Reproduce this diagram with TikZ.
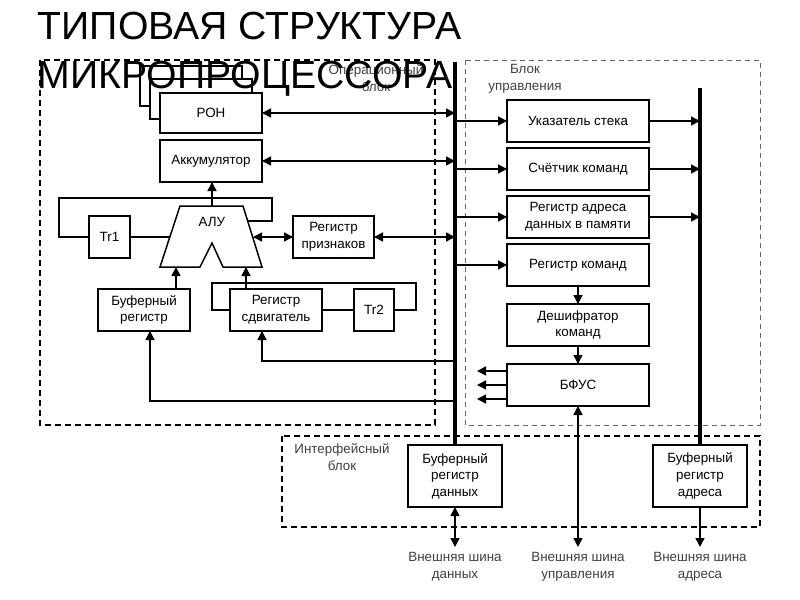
\documentclass[tikz,border=0pt]{standalone}
\usepackage{fontspec}
\setmainfont{Liberation Sans}
\usetikzlibrary{arrows.meta,positioning,calc}

\begin{document}
\begin{tikzpicture}[x=0.5pt,y=-0.5pt,>={Triangle[length=4.5pt,width=4.5pt]},
  line width=0.75pt,font=\fontsize{6.7}{8.3}\selectfont,
  main node/.style={rectangle,draw,fill=white,align=center,inner sep=1pt,
    outer sep=0pt,minimum height=21pt},
  ctrl node/.style={main node,minimum width=71pt},
  bus/.style={line width=2pt},
  block/.style={line width=1pt,dash pattern=on 3pt off 2pt},
  block name/.style={align=center,text=black!75}]

  \useasboundingbox (0,0) rectangle (800,600);

  % blocks
  \draw[block] (40,60) rectangle (435,425);
  \draw[line width=0.5pt,black!60,dash pattern=on 2.5pt off 2pt] (465,60) rectangle (760,425);
  \draw[block] (282,436) rectangle (760,527);
  \node[block name] (ob) at (376,78) {Операционный\\блок};
  \node[block name] (cb) at (525,79) {Блок\\управления};
  \node[block name] (ib) at (342,457) {Интерфейсный\\блок};

  % operational block
  \node[main node,minimum width=51pt,minimum height=20pt] (1b) at (191,86) {};
  \node[main node,minimum width=51pt,minimum height=20pt] (1a) at (201,99) {};
  \node[main node,minimum width=51pt,minimum height=20pt] (1) at (211,113) {РОН};
  \node[main node,minimum width=51pt] (2) at (211,161) {Аккумулятор};
  \draw (180,206) -- (243,206) -- (262,267) -- (223,267) -- (212,243)
    -- (200,267) -- (160,267) -- cycle;
  \node (3) at (212,222) {АЛУ};
  \coordinate (3t) at (212,206);
  \coordinate (3l) at (170,237);
  \coordinate (3r) at (253,237);
  \coordinate (3rr) at (248,221);
  \coordinate (3bl) at (176,267);
  \coordinate (3br) at (246,267);
  \node[main node,minimum width=20.5pt] (4) at (109.5,237) {Tr1};
  \node[main node,minimum width=40.5pt] (5) at (333.5,237) {Регистр\\признаков};
  \node[main node,minimum width=46pt] (6) at (144,310) {Буферный\\регистр};
  \node[main node,minimum width=46pt] (7) at (276,310) {Регистр\\сдвигатель};
  \node[main node,minimum width=20pt] (8) [right=16pt of 7] {Tr2};

  % control block
  \node[ctrl node] (9) at (578,121) {Указатель стека};
  \node[ctrl node,below=3pt of 9] (10) {Счётчик команд};
  \node[ctrl node,below=3pt of 10] (11) {Регистр адреса\\данных в памяти};
  \node[ctrl node,below=3pt of 11] (12) {Регистр команд};
  \node[ctrl node,below=9pt of 12] (13) {Дешифратор\\команд};
  \node[ctrl node,below=9pt of 13] (14) {БФУС};

  % interface block
  \node[main node,minimum width=47pt,minimum height=31pt] (15) at (455,476)
    {Буферный\\регистр\\данных};
  \node[main node,minimum width=47pt,minimum height=31pt] (16) at (700,476)
    {Буферный\\регистр\\адреса};

  % buses
  \coordinate (db) at (455,62);
  \coordinate (ab) at (700,88);
  \draw[bus] (db) -- (15.north);
  \draw[bus] (ab) -- (16.north);

  \path[<->]
    (1.east) edge (1.east -| db)
    (2.east) edge (2.east -| db)
    (5.east) edge (5.east -| db)
    (3r) edge (5.west);
  \path[->]
    (3t) edge (3t |- 2.south)
    (3bl |- 6.north) edge (3bl)
    (3br |- 7.north) edge (3br);

  % loops through the triggers
  \draw (4.east) -- (3l);
  \draw (4.west) -- (59,237) |- (272,198) |- (3rr);
  \draw (7.east) -- (8.west);
  \draw (7.west) -- (212,310) |- (416,283) |- (8.east);

  \coordinate (b1) at (455,361);
  \coordinate (b2) at (455,401);
  \draw[->] (b1) -| ($(7.south)+(-14,0)$);
  \draw[->] (b2) -| ($(6.south)+(6,0)$);

  \path[->]
    (9.west -| db) edge (9.west)
    (10.west -| db) edge (10.west)
    (11.west -| db) edge (11.west)
    (12.west -| db) edge (12.west)
    (9.east) edge (9.east -| ab)
    (10.east) edge (10.east -| ab)
    (11.east) edge (11.east -| ab)
    (12.south) edge (13.north)
    (13.south) edge (14.north);
  \foreach \dy in {-14,0,14}
    \draw[->] ($(14.west)+(0,\dy)$) -- ++(-30,0);

  % external buses
  \coordinate (ed) at (455,547);
  \coordinate (ec) at (578,547);
  \coordinate (ea) at (700,547);
  \draw[<->] (15.south) -- (ed);
  \draw[<->] (14.south) -- (ec);
  \draw[->] (16.south) -- (ea);
  \node[block name] (17) at (455,567) {Внешняя шина\\данных};
  \node[block name] (18) at (578,567) {Внешняя шина\\управления};
  \node[block name] (19) at (700,567) {Внешняя шина\\адреса};

  % title
  \node[anchor=base west,inner sep=0pt,font=\fontsize{19.6}{23}\selectfont] (t1)
    at (37,39) {ТИПОВАЯ СТРУКТУРА};
  \node[anchor=base west,inner sep=0pt,font=\fontsize{19.6}{23}\selectfont] (t2)
    at (37,88) {МИКРОПРОЦЕССОРА};
\end{tikzpicture}
\end{document}
